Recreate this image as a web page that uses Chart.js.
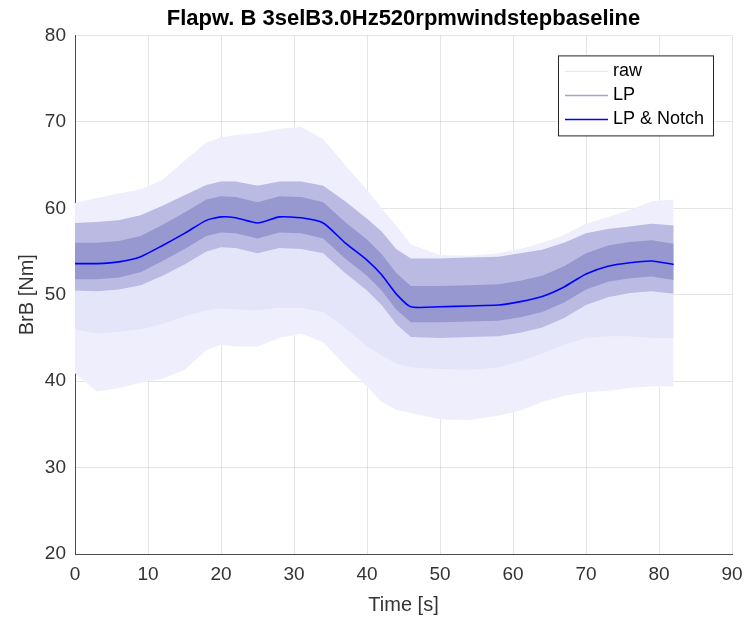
<!DOCTYPE html>
<html>
<head>
<meta charset="utf-8">
<script src="https://cdn.jsdelivr.net/npm/chart.js@4.4.1/dist/chart.umd.min.js"></script>
<style>
  html, body { margin: 0; padding: 0; background: #fff; }
  #wrap { width: 745px; height: 618px; }
</style>
</head>
<body>
<div id="wrap"><canvas id="flapChart"></canvas></div>
<script>
const timeS = [0, 3, 6, 9, 12, 15, 18, 20, 22, 25, 28, 31, 34, 37, 40, 42, 44, 46, 50, 54, 58, 61, 64, 67, 70, 73, 76, 79, 82];

// raw signal: outer envelope (peaks) and lower edge of the dense part
const rawMax = [60.6, 61.2, 61.7, 62.2, 63.3, 65.5, 67.6, 68.2, 68.5, 68.7, 69.2, 69.4, 68.0, 65.0, 62.1, 60.0, 58.0, 55.8, 54.6, 54.5, 54.8, 55.3, 56.0, 56.9, 58.2, 59.0, 59.8, 60.8, 61.0];
const rawMin = [40.9, 38.8, 39.2, 39.8, 40.3, 41.3, 43.6, 44.2, 44.0, 44.0, 45.0, 45.5, 44.5, 41.8, 39.4, 37.6, 36.7, 36.3, 35.6, 35.5, 36.0, 36.6, 37.6, 38.3, 38.7, 38.9, 39.2, 39.4, 39.4];
const rawCoreLow = [46.0, 45.5, 45.7, 46.0, 46.6, 47.5, 48.2, 48.4, 48.3, 48.2, 48.5, 48.5, 48.0, 46.2, 44.0, 43.0, 42.0, 41.6, 41.4, 41.3, 41.6, 42.3, 43.2, 44.2, 45.0, 45.2, 45.2, 45.0, 45.0];

// low-pass signal: outer envelope and dense core
const lpMax = [58.3, 58.4, 58.6, 59.2, 60.3, 61.5, 62.7, 63.1, 63.1, 62.6, 63.1, 63.1, 62.6, 60.8, 58.8, 57.3, 55.3, 54.2, 54.2, 54.3, 54.4, 54.8, 55.2, 56.0, 57.1, 57.6, 57.9, 58.2, 58.0];
const lpMin = [50.5, 50.4, 50.6, 51.1, 52.2, 53.5, 55.0, 55.5, 55.4, 54.8, 55.4, 55.3, 54.8, 52.5, 50.5, 48.8, 46.6, 45.1, 45.0, 45.1, 45.2, 45.6, 46.2, 47.3, 48.8, 49.7, 50.2, 50.4, 50.1];
const lpCoreHigh = [56.0, 56.0, 56.2, 56.8, 58.1, 59.5, 61.0, 61.4, 61.3, 60.7, 61.4, 61.3, 60.7, 58.4, 56.4, 54.7, 52.5, 51.0, 51.0, 51.1, 51.2, 51.6, 52.2, 53.3, 54.8, 55.7, 56.1, 56.3, 55.9];
const lpCoreLow = [51.8, 51.8, 52.0, 52.6, 53.9, 55.3, 56.8, 57.2, 57.1, 56.5, 57.2, 57.1, 56.5, 54.2, 52.2, 50.5, 48.3, 46.8, 46.8, 46.9, 47.0, 47.4, 48.0, 49.1, 50.6, 51.5, 51.9, 52.1, 51.7];

// low-pass + notch filtered signal
const lpNotch = [53.6, 53.6, 53.8, 54.4, 55.7, 57.1, 58.6, 59.0, 58.9, 58.3, 59.0, 58.9, 58.3, 56.0, 54.0, 52.3, 50.1, 48.6, 48.6, 48.7, 48.8, 49.2, 49.8, 50.9, 52.4, 53.3, 53.7, 53.9, 53.5];

const xTicks = [0, 10, 20, 30, 40, 50, 60, 70, 80, 90];
const yTicks = [20, 30, 40, 50, 60, 70, 80];

const legendNames = ['raw', 'LP', 'LP & Notch'];
const legendColors = ['rgb(228,228,250)', 'rgb(165,165,212)', 'rgb(0,0,255)'];

function pts(arr) {
    return timeS.map((t, i) => ({ x: t, y: arr[i] }));
}

function band(data, color, fill, order) {
    return {
        data: pts(data),
        borderWidth: 0,
        borderColor: color,
        backgroundColor: color,
        pointRadius: 0,
        fill: fill,
        order: order
    };
}

// legend drawn as a MATLAB style box in the upper right of the axes
const boxLegend = {
    id: 'boxLegend',
    afterDraw(chart) {
        const ctx = chart.ctx;
        const a = chart.chartArea;
        const w = 155, h = 80;
        const x = a.right - 19 - w, y = a.top + 20;
        ctx.save();
        ctx.fillStyle = '#fff';
        ctx.fillRect(x, y, w, h);
        ctx.strokeStyle = '#262626';
        ctx.lineWidth = 1;
        ctx.strokeRect(x + 0.5, y + 0.5, w, h);
        ctx.font = '18px "Liberation Sans", Arial, sans-serif';
        ctx.textBaseline = 'middle';
        legendNames.forEach((name, i) => {
            const cy = y + 16 + i * 24;
            ctx.strokeStyle = legendColors[i];
            ctx.lineWidth = i === 0 ? 1 : 1.5;
            ctx.beginPath();
            ctx.moveTo(x + 7, cy);
            ctx.lineTo(x + 50, cy);
            ctx.stroke();
            ctx.fillStyle = '#000';
            ctx.fillText(name, x + 55, cy);
        });
        ctx.restore();
    }
};

const ctx = document.getElementById('flapChart');

new Chart(ctx, {
    type: 'line',
    data: {
        datasets: [
            band(rawMax, 'rgb(238,238,252)', '+1', 9),
            band(rawMin, 'rgb(238,238,252)', false, 8),
            band(rawCoreLow, 'rgb(229,229,250)', 3, 7),
            band(lpMax, 'rgb(186,186,226)', '+1', 6),
            band(lpMin, 'rgb(186,186,226)', false, 5),
            band(lpCoreHigh, 'rgb(152,152,208)', '+1', 4),
            band(lpCoreLow, 'rgb(152,152,208)', false, 3),
            {
                label: 'LP & Notch',
                data: pts(lpNotch),
                borderColor: 'rgb(0,0,255)',
                borderWidth: 1.6,
                pointRadius: 0,
                fill: false,
                tension: 0.2,
                order: 0
            }
        ]
    },
    plugins: [boxLegend],
    options: {
        responsive: true,
        maintainAspectRatio: false,
        animation: false,
        layout: { padding: { top: 0, right: 13, bottom: 0, left: 0 } },
        plugins: {
            legend: { display: false },
            tooltip: { enabled: false },
            title: {
                display: true,
                text: 'Flapw. B 3selB3.0Hz520rpmwindstepbaseline',
                color: '#000',
                fullSize: false,
                font: { size: 22, weight: 'bold', family: '"Liberation Sans", Arial, sans-serif' },
                padding: { top: 6, bottom: 3 }
            }
        },
        scales: {
            x: {
                type: 'linear',
                min: 0,
                max: 90,
                afterFit: function(scale) {
                    scale.height = 64;
                    scale.paddingLeft = 0;
                    scale.paddingRight = 0;
                },
                afterBuildTicks: function(scale) { scale.ticks = xTicks.map(v => ({ value: v })); },
                grid: { color: 'rgba(0,0,0,0.1)', drawTicks: false },
                border: { color: '#4d4d4d', width: 1 },
                ticks: {
                    color: '#333',
                    padding: 9,
                    maxRotation: 0,
                    font: { size: 19, family: '"Liberation Sans", Arial, sans-serif' }
                },
                title: {
                    display: true,
                    text: 'Time [s]',
                    color: '#333',
                    padding: { top: 0, bottom: 1 },
                    font: { size: 20, family: '"Liberation Sans", Arial, sans-serif' }
                }
            },
            y: {
                min: 20,
                max: 80,
                afterFit: function(scale) { scale.width = 75; },
                afterBuildTicks: function(scale) { scale.ticks = yTicks.map(v => ({ value: v })); },
                grid: { color: 'rgba(0,0,0,0.1)', drawTicks: false },
                border: { color: '#4d4d4d', width: 1 },
                ticks: {
                    color: '#333',
                    padding: 9,
                    font: { size: 19, family: '"Liberation Sans", Arial, sans-serif' }
                },
                title: {
                    display: true,
                    text: 'BrB [Nm]',
                    color: '#333',
                    padding: { top: 15, bottom: 0 },
                    font: { size: 20, family: '"Liberation Sans", Arial, sans-serif' }
                }
            }
        }
    }
});
</script>
</body>
</html>
